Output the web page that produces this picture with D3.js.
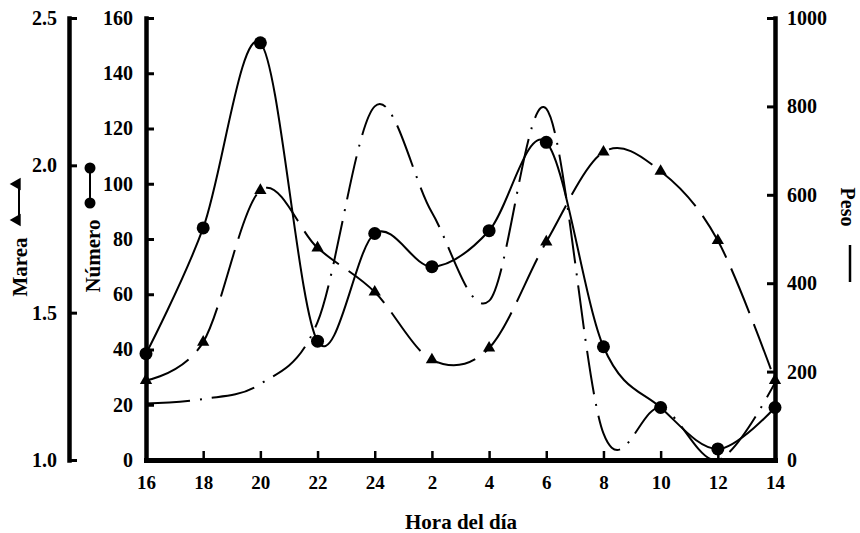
<!DOCTYPE html>
<html>
<head>
<meta charset="utf-8">
<script src="https://cdn.jsdelivr.net/npm/d3@7"></script>
<style>
  html, body { margin: 0; padding: 0; background: #fff; }
  svg { display: block; font-family: "Liberation Serif", "Times New Roman", serif; font-weight: bold; }
</style>
</head>
<body>
<svg id="chart" width="860" height="533"></svg>
<script>
// ---- data ----
const hours = ["16","18","20","22","24","2","4","6","8","10","12","14"];
const numero = [38.5, 84, 151, 43, 82, 70, 83, 115, 41, 19, 4, 19];
const marea = [1.27, 1.40, 1.915, 1.72, 1.57, 1.34, 1.38, 1.74, 2.045, 1.98, 1.745, 1.27];
const peso = [128, 138, 172, 312, 800, 560, 360, 795, 60, 118, 0, 175];
const mareaTicks = [1.0, 1.5, 2.0, 2.5];
const numeroTicks = [0, 20, 40, 60, 80, 100, 120, 140, 160];
const pesoTicks = [0, 200, 400, 600, 800, 1000];

(function () {
const svg = d3.select("#chart");
const pLeft = 146, pRight = 775, pTop = 18, pBottom = 460;

const x = d3.scalePoint().domain(hours).range([pLeft, pRight]);
const yN = d3.scaleLinear().domain([0, 160]).range([pBottom, pTop]);
const yM = d3.scaleLinear().domain([1.0, 2.5]).range([pBottom, pTop]);
const yP = d3.scaleLinear().domain([0, 1000]).range([pBottom, pTop]);

function styleAxis(g, w, fs) {
  g.select(".domain").attr("stroke", "#000").attr("stroke-width", w).attr("stroke-linecap", "square");
  g.selectAll(".tick line").attr("stroke", "#000").attr("stroke-width", 3);
  g.selectAll(".tick text").attr("fill", "#000").style("font-size", fs + "px")
    .style("font-family", "'Liberation Serif', serif").style("font-weight", "bold");
}

// Marea axis (outer left)
const gM = svg.append("g").attr("transform", "translate(69,0)")
  .call(d3.axisLeft(yM).tickValues(mareaTicks).tickFormat(d3.format(".1f"))
    .tickSizeInner(-8).tickSizeOuter(0).tickPadding(12));
styleAxis(gM, 4.5, 20);

// Número axis
const gN = svg.append("g").attr("transform", `translate(${pLeft},0)`)
  .call(d3.axisLeft(yN).tickValues(numeroTicks).tickFormat(d3.format("d"))
    .tickSizeInner(-8).tickSizeOuter(0).tickPadding(13));
styleAxis(gN, 4.5, 20);

// Peso axis (right)
const gP = svg.append("g").attr("transform", `translate(${pRight},0)`)
  .call(d3.axisRight(yP).tickValues(pesoTicks).tickFormat(d3.format("d"))
    .tickSizeInner(-8).tickSizeOuter(0).tickPadding(12));
styleAxis(gP, 4.5, 20);

// X axis
const gX = svg.append("g").attr("transform", `translate(0,${pBottom})`)
  .call(d3.axisBottom(x).tickSizeInner(-9).tickSizeOuter(0).tickPadding(16));
styleAxis(gX, 5, 19);
gX.selectAll(".tick line").attr("stroke-width", 2.5);

// ---- lines ----
const curve = d3.curveCardinal.tension(0);

const linePeso = d3.line().x((d, i) => x(hours[i])).y(d => yP(d)).curve(curve);
svg.append("path").datum(peso).attr("d", linePeso)
  .attr("fill", "none").attr("stroke", "#000").attr("stroke-width", 2)
  .attr("stroke-dasharray", "44,10,2,10");

const lineMarea = d3.line().x((d, i) => x(hours[i])).y(d => yM(d)).curve(curve);
svg.append("path").datum(marea).attr("d", lineMarea)
  .attr("fill", "none").attr("stroke", "#000").attr("stroke-width", 2)
  .attr("stroke-dasharray", "48,12");

const lineNum = d3.line().x((d, i) => x(hours[i])).y(d => yN(d)).curve(curve);
svg.append("path").datum(numero).attr("d", lineNum)
  .attr("fill", "none").attr("stroke", "#000").attr("stroke-width", 2);

// markers
const tri = d3.symbol().type(d3.symbolTriangle).size(65);
svg.append("g").selectAll("path").data(marea).join("path")
  .attr("d", tri)
  .attr("transform", (d, i) => `translate(${x(hours[i])},${yM(d)})`)
  .attr("fill", "#000");

svg.append("g").selectAll("circle").data(numero).join("circle")
  .attr("cx", (d, i) => x(hours[i])).attr("cy", d => yN(d))
  .attr("r", 6.5).attr("fill", "#000");

// ---- axis titles & legend glyphs ----
svg.append("text").attr("transform", "translate(27,267) rotate(-90)")
  .attr("text-anchor", "middle").style("font-size", "21px").text("Marea");
svg.append("line").attr("x1", 19).attr("x2", 19).attr("y1", 184).attr("y2", 220)
  .attr("stroke", "#000").attr("stroke-width", 2);
const triSmall = d3.symbol().type(d3.symbolTriangle).size(70);
[184, 220].forEach(yy => {
  svg.append("path").attr("d", triSmall)
    .attr("transform", `translate(17,${yy}) rotate(-90)`).attr("fill", "#000");
});

svg.append("text").attr("transform", "translate(100,256) rotate(-90)")
  .attr("text-anchor", "middle").style("font-size", "21px").text("Número");
svg.append("line").attr("x1", 90).attr("x2", 90).attr("y1", 168).attr("y2", 203)
  .attr("stroke", "#000").attr("stroke-width", 2);
[168, 203].forEach(yy => {
  svg.append("circle").attr("cx", 90).attr("cy", yy).attr("r", 5.5).attr("fill", "#000");
});

svg.append("text").attr("transform", "translate(841,207) rotate(90)")
  .attr("text-anchor", "middle").style("font-size", "20px").text("Peso");
svg.append("line").attr("x1", 850).attr("x2", 850).attr("y1", 245).attr("y2", 282)
  .attr("stroke", "#000").attr("stroke-width", 2.5);

svg.append("text").attr("x", 461).attr("y", 529)
  .attr("text-anchor", "middle").style("font-size", "21px").text("Hora del día");
})();
</script>
</body>
</html>
